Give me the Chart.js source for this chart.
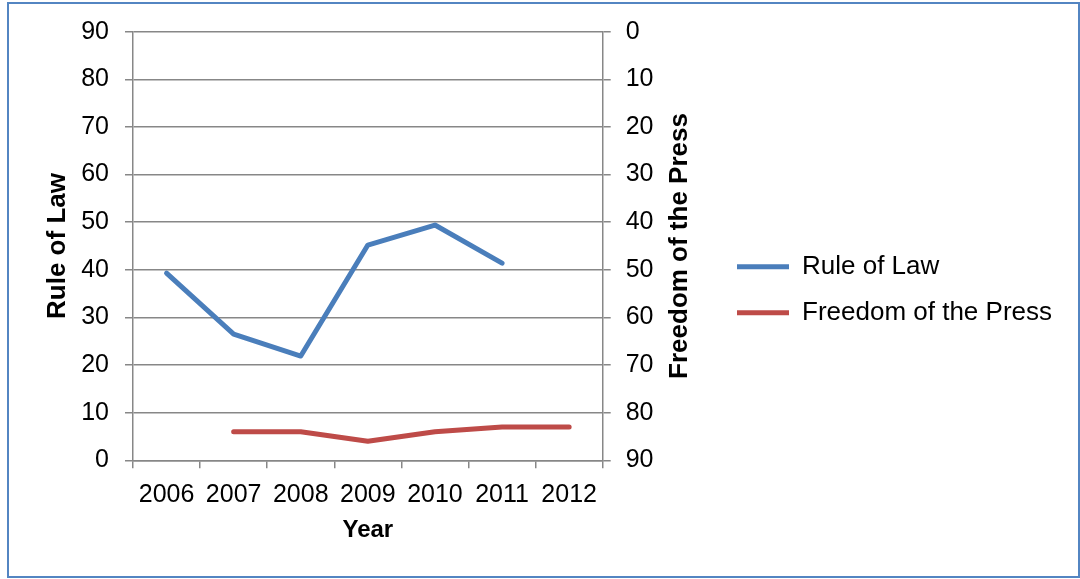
<!DOCTYPE html>
<html>
<head>
<meta charset="utf-8">
<script src="https://cdn.jsdelivr.net/npm/chart.js@4.4.0/dist/chart.umd.min.js"></script>
<style>
  html, body { margin: 0; padding: 0; background: #ffffff; }
  #wrap { position: relative; width: 1080px; height: 579px; }
  #frame { position: absolute; left: 7px; top: 2px; width: 1073px; height: 576px;
           box-sizing: border-box; border: 2px solid #5385c2; pointer-events: none; }
  canvas { display: block; }
</style>
</head>
<body>
<div id="wrap">
  <canvas id="chart" width="1080" height="579"></canvas>
  <div id="frame"></div>
</div>
<script>
// Data
const years = ['2006', '2007', '2008', '2009', '2010', '2011', '2012'];
const ruleOfLaw = [39.3, 26.5, 21.9, 45.2, 49.4, 41.4, null];
const freedomOfPress = [null, 84, 84, 86, 84, 83, 83];
const seriesNames = ['Rule of Law', 'Freedom of the Press'];
const axisTitles = { x: 'Year', left: 'Rule of Law', right: 'Freedom of the Press' };
const axisMin = 0, axisMax = 90, axisStep = 10;

// Styling
const FONT = '"Liberation Sans", Arial, sans-serif';
const GRID = '#878787';
const BLUE = '#4a7ebb';
const RED = '#be4b48';
const LINE_W = 5;
const TICK_SIZE = 25;
const LEGEND_SIZE = 26;
const LEGEND_BOX = 52;
const LEGEND_PAD = 20;
const PAD = { left: 0, right: 18, top: 31.7, bottom: 31.3 };
const PLOT_LEFT = 133, PLOT_RIGHT = 602.7;

// Width the right-hand legend will take, so the plot ends where intended
function legendWidth() {
  const ctx = document.createElement('canvas').getContext('2d');
  ctx.font = LEGEND_SIZE + 'px ' + FONT;
  const w = Math.max(...seriesNames.map(t => ctx.measureText(t).width));
  return LEGEND_PAD + LEGEND_BOX + LEGEND_SIZE / 2 + w + 10;
}
const LEGEND_W = legendWidth();
const rightAxisWidth = 1080 - PAD.right - LEGEND_W - PLOT_RIGHT;

// Right-hand axis title, written bottom-to-top
const rightTitle = {
  id: 'rightTitle',
  afterDraw(chart) {
    const { ctx, chartArea } = chart;
    const s = chart.scales.y1;
    ctx.save();
    ctx.font = 'bold 26px ' + FONT;
    ctx.fillStyle = '#000';
    ctx.textAlign = 'center';
    ctx.textBaseline = 'middle';
    ctx.translate(s.left + 77, (chartArea.top + chartArea.bottom) / 2);
    ctx.rotate(-Math.PI / 2);
    ctx.fillText(axisTitles.right, 0, 0);
    ctx.restore();
  }
};

new Chart(document.getElementById('chart'), {
  type: 'line',
  data: {
    labels: years,
    datasets: [
      { label: seriesNames[0], data: ruleOfLaw, yAxisID: 'y',
        borderColor: BLUE, backgroundColor: BLUE, borderWidth: LINE_W,
        borderCapStyle: 'round', borderJoinStyle: 'round', pointRadius: 0, tension: 0 },
      { label: seriesNames[1], data: freedomOfPress, yAxisID: 'y1',
        borderColor: RED, backgroundColor: RED, borderWidth: LINE_W,
        borderCapStyle: 'round', borderJoinStyle: 'round', pointRadius: 0, tension: 0 }
    ]
  },
  options: {
    responsive: false,
    animation: false,
    layout: { padding: PAD },
    plugins: {
      tooltip: { enabled: false },
      legend: {
        position: 'right',
        align: 'center',
        maxWidth: LEGEND_W + 40,
        labels: {
          usePointStyle: true,
          pointStyle: 'line',
          pointStyleWidth: LEGEND_BOX,
          padding: LEGEND_PAD,
          color: '#000',
          font: { family: FONT, size: LEGEND_SIZE }
        }
      }
    },
    scales: {
      x: {
        type: 'category',
        offset: true,
        grid: { offset: true, drawOnChartArea: false, drawTicks: true, tickLength: 8, color: GRID, lineWidth: 1.5 },
        border: { display: true, color: GRID, width: 1.5 },
        ticks: { color: '#000', font: { family: FONT, size: TICK_SIZE }, padding: 12, maxRotation: 0, autoSkip: false },
        title: { display: true, text: axisTitles.x, color: '#000',
                 font: { family: FONT, size: 24, weight: 'bold' }, padding: { top: 0, bottom: 3.3 } },
        afterFit(scale) { scale.height = 579 - PAD.bottom - 460.3; }
      },
      y: {
        position: 'left',
        min: axisMin, max: axisMax,
        grid: { color: GRID, lineWidth: 1.5, drawTicks: true, tickLength: 8 },
        border: { display: true, color: GRID, width: 1.5 },
        ticks: { stepSize: axisStep, color: '#000', font: { family: FONT, size: TICK_SIZE }, padding: 16 },
        title: { display: true, text: axisTitles.left, color: '#000',
                 font: { family: FONT, size: 26, weight: 'bold' }, padding: { top: 42, bottom: 0 } },
        afterFit(scale) { scale.width = PLOT_LEFT - PAD.left; }
      },
      y1: {
        position: 'right',
        reverse: true,
        min: axisMin, max: axisMax,
        grid: { drawOnChartArea: false, drawTicks: true, tickLength: 8, color: GRID, lineWidth: 1.5 },
        border: { display: true, color: GRID, width: 1.5 },
        ticks: { stepSize: axisStep, color: '#000', font: { family: FONT, size: TICK_SIZE }, padding: 15 },
        afterFit(scale) { scale.width = rightAxisWidth; }
      }
    }
  },
  plugins: [rightTitle]
});
</script>
</body>
</html>
